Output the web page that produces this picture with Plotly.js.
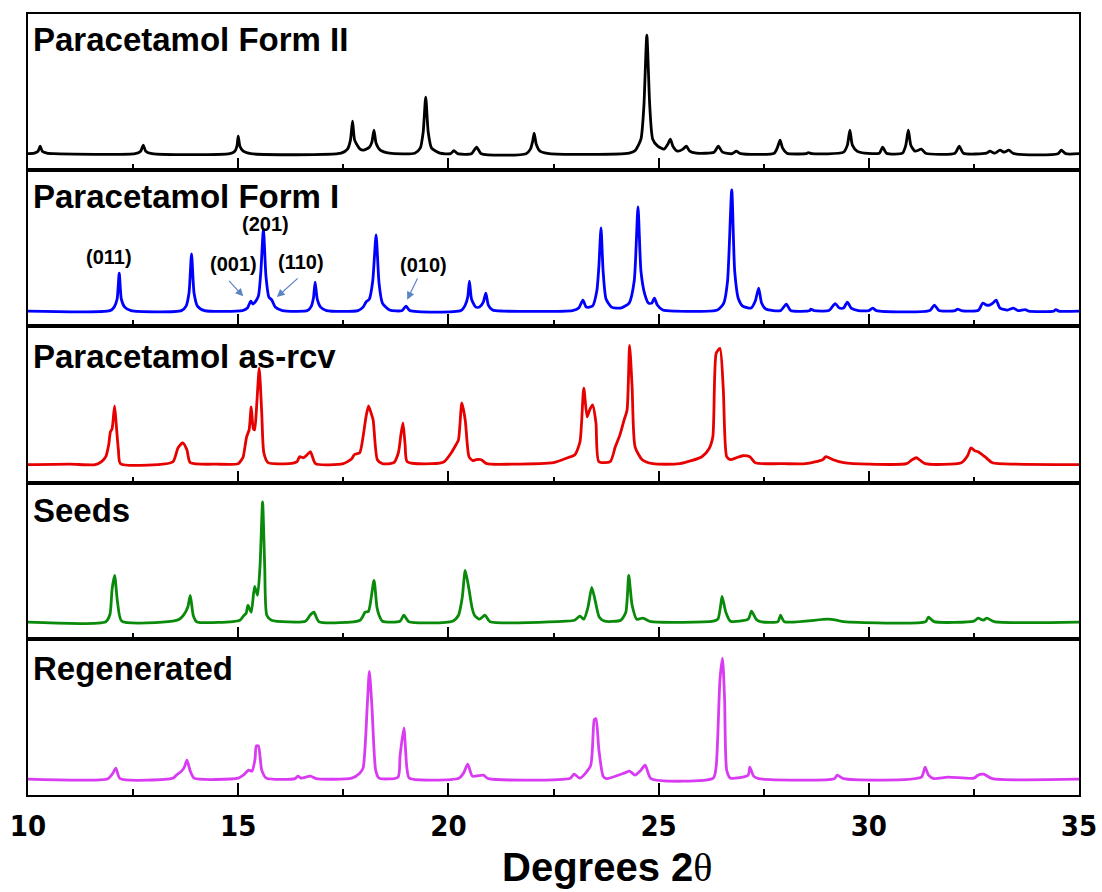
<!DOCTYPE html>
<html>
<head>
<meta charset="utf-8">
<script src="https://cdn.plot.ly/plotly-3.0.1.min.js"></script>
<style>html,body{margin:0;padding:0;background:#fff;}#chart{width:1102px;height:892px;}</style>
</head>
<body>
<div id="chart"></div>
<script>
// ---- Data (2-theta, intensity above baseline) ----
const panelNames = ["Paracetamol Form II", "Paracetamol Form I", "Paracetamol as-rcv", "Seeds", "Regenerated"];
const tickVals = [10, 15, 20, 25, 30, 35];
const tickText = ["10", "15", "20", "25", "30", "35"];

const formII = [[10.0,0.5],[10.15,1],[10.24,3],[10.29,8],[10.34,3],[10.45,1],[10.6,0.5],
[12.55,0.5],[12.68,3],[12.74,9],[12.80,3],[12.95,0.5],
[14.8,0.5],[14.92,3],[14.97,8],[15.0,18],[15.04,8],[15.12,3],[15.3,0.5],
[17.45,1],[17.6,5],[17.67,14],[17.72,33],[17.77,14],[17.9,5],[17.98,4],[18.12,7],[18.18,12],[18.23,24],[18.28,11],[18.38,4],[18.6,1],
[19.2,1],[19.33,6],[19.40,22],[19.46,57],[19.52,22],[19.6,6],[19.8,1],
[20.05,0.5],[20.13,3.5],[20.22,0.5],[20.55,0.5],[20.67,7],[20.78,0.5],
[21.85,0.5],[21.95,5],[22.00,12],[22.04,21],[22.09,10],[22.18,3],[22.4,0.5],
[24.3,1],[24.45,4],[24.58,15],[24.65,48],[24.72,119],[24.79,48],[24.86,15],[24.98,8],[25.13,5],[25.22,10],[25.28,15],[25.34,8],[25.45,3],[25.58,5],[25.66,8],[25.74,3],[25.9,1],
[26.32,2],[26.42,8],[26.52,2],[26.75,0.5],[26.85,3],[26.95,0.5],
[27.75,1],[27.83,7],[27.89,14],[27.95,6],[28.05,1],[28.5,0.5],[28.56,1.5],[28.65,0.5],
[29.4,2],[29.49,9],[29.55,24],[29.61,9],[29.72,3],[29.9,1],[30.25,1],[30.33,7],[30.42,1],
[30.8,1],[30.88,9],[30.94,24],[31.0,9],[31.1,3],[31.25,5],[31.35,1],
[32.05,1],[32.15,8],[32.25,1],[32.8,1],[32.88,3],[33.0,1],[33.12,4],[33.22,2],[33.33,4],[33.45,0.5],
[34.5,0.5],[34.58,4],[34.68,0.5],[35.0,0.5]];

const formI = [[10.0,0],[11.95,0.5],[12.05,4],[12.12,12],[12.17,38],[12.22,12],[12.3,4],[12.45,0.5],
[13.65,0.5],[13.76,5],[13.83,18],[13.89,57],[13.95,18],[14.03,5],[14.2,0.5],
[15.1,0.5],[15.22,3],[15.30,10],[15.35,7],[15.40,9],[15.48,15],[15.54,40],[15.60,82],[15.66,35],[15.73,14],[15.80,11],[15.88,4],[16.05,0.5],
[16.65,0.5],[16.74,5],[16.79,13],[16.83,29],[16.88,12],[16.96,4],[17.1,0.5],
[17.85,0.5],[17.97,4],[18.04,9],[18.12,12],[18.2,30],[18.28,76],[18.35,28],[18.43,8],[18.6,1],
[18.9,0.5],[18.99,5],[19.08,0.5],
[20.3,0.5],[20.4,6],[20.46,14],[20.50,30],[20.55,12],[20.65,4],[20.74,4],[20.83,9],[20.89,18],[20.95,6],[21.05,1],[21.3,0],
[22.95,0.5],[23.1,3],[23.2,11],[23.28,4],[23.43,5],[23.53,20],[23.58,45],[23.63,83],[23.68,40],[23.75,12],[23.88,4],
[24.1,3],[24.3,8],[24.42,30],[24.51,104],[24.58,40],[24.67,17],[24.76,8],[24.84,8],[24.9,13],[24.97,6],[25.1,1],[25.4,0],
[26.4,1],[26.55,8],[26.64,30],[26.74,121],[26.81,40],[26.9,12],[27.0,5],[27.2,3],[27.3,10],[27.38,23],[27.45,8],[27.55,2],
[27.9,0.5],[28.04,7],[28.14,0.5],[28.6,0.5],[28.62,2],[28.7,0.5],
[29.05,0.5],[29.2,7.5],[29.3,3],[29.4,3],[29.49,9],[29.58,3],[29.75,0.5],[30.0,0.5],[30.09,3],[30.18,0.5],
[31.45,0.5],[31.56,6],[31.67,0.5],[32.05,0.5],[32.11,2],[32.2,0.5],
[32.6,0.5],[32.71,8],[32.8,6],[32.87,6],[32.95,8],[33.03,11],[33.12,3],[33.3,1],[33.44,3],[33.55,0.5],[33.72,1.5],[33.8,0],
[34.4,0],[34.45,1.5],[34.52,0],[35.0,0]];

const asRcv = [[10.0,0],[11.0,0.5],[11.6,0],[11.75,3],[11.85,8],[11.92,20],[11.96,33],[12.0,36],[12.06,59],[12.1,40],[12.15,15],[12.2,1],
[13.2,0.5],[13.45,3],[13.57,17],[13.68,22],[13.78,15],[13.86,2],[14.5,0.5],
[15.0,1],[15.08,5],[15.12,8],[15.2,28],[15.26,35],[15.31,58],[15.36,36],[15.39,35],[15.44,60],[15.5,97],[15.56,52],[15.61,12],[15.71,2],
[16.2,1],[16.4,3],[16.46,8],[16.56,7],[16.64,10],[16.72,13],[16.84,1],
[17.5,1],[17.7,6],[17.76,10],[17.89,12],[17.97,28],[18.04,48],[18.10,59],[18.16,52],[18.21,45],[18.31,5],[18.43,1],
[18.7,2],[18.81,12],[18.87,30],[18.92,42],[18.97,20],[19.02,3],
[19.6,1],[19.9,3],[20.07,12],[20.18,20],[20.24,25],[20.32,62],[20.40,45],[20.49,8],[20.58,4],[20.66,5],[20.78,5],[20.91,1],
[21.5,0.5],[22.5,2],[22.84,7],[23.01,10],[23.13,23],[23.22,77],[23.30,48],[23.36,55],[23.43,60],[23.51,42],[23.58,3],
[23.85,3],[23.97,18],[24.08,30],[24.18,45],[24.25,55],[24.31,120],[24.37,78],[24.44,18],[24.61,5],[24.86,1],
[25.5,1],[26.03,8],[26.2,16],[26.29,28],[26.37,112],[26.46,117],[26.54,75],[26.62,8],[26.71,5],[26.85,7],[27.0,9],[27.17,8],[27.30,2],
[28.0,1],[28.5,1],[28.9,5],[28.98,8],[29.15,5],[29.4,2],[30.0,0.5],
[30.9,1],[31.03,5],[31.13,7],[31.34,1],
[32.2,2],[32.35,9],[32.43,17],[32.52,14],[32.6,13],[32.76,8],[32.94,2],[33.5,0.5],[35.0,0]];

const seeds = [[10.0,0],[11.85,0.5],[11.95,8],[12.0,33],[12.06,47],[12.13,20],[12.23,1],
[13.44,1],[13.6,3],[13.70,7],[13.80,15],[13.86,27],[13.93,7],[14.01,0.5],
[15.04,2],[15.14,7],[15.19,9],[15.23,17],[15.31,10],[15.39,36],[15.46,27],[15.52,57],[15.58,121],[15.63,57],[15.68,7],[15.79,2],
[16.6,1],[16.71,7],[16.80,10],[16.92,0.5],
[17.9,2],[18.02,10],[18.10,11],[18.23,42],[18.30,15],[18.35,7],[18.43,1],
[18.85,1],[18.94,7],[19.06,0.5],
[20.1,1],[20.24,7],[20.33,25],[20.40,52],[20.49,33],[20.56,15],[20.62,7],[20.74,3],[20.87,7],[20.99,0.5],
[22.8,1],[23.0,2],[23.13,6],[23.22,3],[23.32,15],[23.41,35],[23.49,22],[23.59,5],[23.72,1],
[24.1,2],[24.22,10],[24.29,47],[24.37,17],[24.48,3],[24.62,4],[24.69,3],[24.82,0.5],
[26.3,1],[26.41,3],[26.48,18],[26.51,26],[26.60,10],[26.71,1],
[27.13,3],[27.21,11],[27.32,3],[27.42,0.5],[27.84,0.5],[27.9,7],[27.99,0.5],
[29.02,3],[29.23,2],[29.4,0.5],[31.35,0.5],[31.42,5],[31.55,0.5],
[32.5,1],[32.60,4],[32.72,2],[32.81,4],[32.98,0.5],[35.0,0]];

const regenerated = [[10.0,0],[11.9,0.5],[12.02,6],[12.09,11],[12.19,0.5],
[13.45,1],[13.53,4],[13.65,8],[13.72,12],[13.78,19],[13.86,8],[13.95,1],
[15.0,1],[15.12,4],[15.25,9],[15.33,8],[15.40,20],[15.43,33],[15.48,33],[15.56,9],[15.67,1],
[16.35,0.5],[16.42,3],[16.5,1],[16.72,3],[16.85,0.5],
[17.7,1],[17.89,6],[17.97,11],[18.07,73],[18.12,107],[18.18,73],[18.27,9],[18.35,1],
[18.8,2],[18.85,23],[18.94,51],[19.01,12],[19.07,1],
[20.25,1],[20.36,6],[20.46,15],[20.57,3],[20.83,4],[20.95,0.5],
[22.9,1],[22.99,5],[23.13,1],[23.38,13],[23.47,59],[23.51,60],[23.58,29],[23.68,3],[23.76,0.5],
[24.18,6],[24.31,8],[24.44,4],[24.56,8],[24.68,14],[24.82,0.5],
[26.3,1],[26.37,13],[26.46,99],[26.52,120],[26.57,79],[26.62,9],[26.71,1],
[27.13,4],[27.17,12],[27.26,3],[27.38,0.5],
[29.18,0.5],[29.25,4],[29.40,0.5],
[31.25,2],[31.34,12],[31.42,4],[31.55,0.5],[31.88,2],
[32.5,1],[32.60,4],[32.73,5],[32.94,0.5],[35.0,0]];

const series = [formII, formI, asRcv, seeds, regenerated];
const colors = ["#000000", "#0000ff", "#e60000", "#0a8a0a", "#d93bf2"];

// ---- layout helpers ----
const yRanges = [[-16,140],[-15.3,140.7],[-18,139],[-16.7,140.3],[-15.7,139.3]];
const domains = [[0.8,1],[0.6,0.8],[0.4,0.6],[0.2,0.4],[0,0.2]];
const labelY = [0.835, 0.833, 0.807, 0.82, 0.81];

const traces = series.map((s, i) => ({
  x: s.map(p => p[0]),
  y: s.map(p => p[1]),
  type: 'scatter', mode: 'lines',
  line: {color: colors[i], width: 2.8, shape: 'spline', smoothing: 0.6},
  xaxis: 'x' + (i === 0 ? '' : i + 1),
  yaxis: 'y' + (i === 0 ? '' : i + 1),
  hoverinfo: 'skip', showlegend: false
}));

const layout = {
  width: 1102, height: 892,
  margin: {l: 28, r: 23, t: 14, b: 97},
  paper_bgcolor: '#ffffff', plot_bgcolor: '#ffffff',
  showlegend: false,
  font: {family: 'Liberation Sans, Arial, sans-serif', color: '#000'},
  annotations: []
};

for (let i = 0; i < 5; i++) {
  const sx = i === 0 ? '' : String(i + 1);
  layout['xaxis' + sx] = {
    range: [10, 35], anchor: 'y' + sx,
    showline: true, linewidth: 2, linecolor: '#000', mirror: true,
    ticks: 'inside', tickmode: 'array', tickvals: tickVals, ticktext: tickText,
    ticklen: 12, tickwidth: 2, tickcolor: '#000',
    minor: {dtick: 2.5, tick0: 10, ticks: 'inside', ticklen: 6, tickwidth: 2, tickcolor: '#000', showgrid: false},
    showgrid: false, zeroline: false,
    showticklabels: i === 4,
    tickfont: {family: 'Liberation Sans Narrow, DejaVu Sans Condensed, Liberation Sans, sans-serif', size: 29, color: '#000', weight: 'bold'},
    ticklabelstandoff: 4
  };
  layout['yaxis' + sx] = {
    domain: domains[i], range: yRanges[i], anchor: 'x' + sx,
    showline: true, linewidth: 2, linecolor: '#000', mirror: true,
    ticks: '', showticklabels: false, showgrid: false, zeroline: false
  };
  layout.annotations.push({
    text: panelNames[i], xref: 'paper', yref: 'y' + sx + ' domain',
    x: 0.003, y: labelY[i], xanchor: 'left', yanchor: 'middle', showarrow: false,
    font: {family: 'Liberation Sans, Arial, sans-serif', size: 33, color: '#000', weight: 'bold'}
  });
}

// axis title
layout.annotations.push({
  text: 'Degrees 2<span style="font-family:Liberation Serif;font-weight:normal">θ</span>', xref: 'paper', yref: 'paper', x: 0.551, y: -0.1242,
  xanchor: 'center', yanchor: 'bottom', showarrow: false,
  font: {family: 'Liberation Sans, Arial, sans-serif', size: 40, color: '#000', weight: 'bold'}
});

// Miller indices (Form I panel)
const millerText = ["(011)", "(201)", "(001)", "(110)", "(010)"];
const millerX = [11.93, 15.64, 14.89, 16.49, 19.40];
const millerY = [54, 87, 47, 49, 46];
millerText.forEach((t, k) => layout.annotations.push({
  text: t, xref: 'x2', yref: 'y2', x: millerX[k], y: millerY[k],
  xanchor: 'center', yanchor: 'middle', showarrow: false,
  font: {family: 'Liberation Sans, Arial, sans-serif', size: 20, color: '#000', weight: 'bold'}
}));

// arrows pointing to weak reflections
const arrowTipX = [15.12, 15.92, 19.02];
const arrowTipY = [14.7, 14, 11.4];
const arrowAx = [-15.6, 22.3, 11];
const arrowAy = [-17, -20, -22.6];
arrowTipX.forEach((x, k) => layout.annotations.push({
  text: '', xref: 'x2', yref: 'y2', x: x, y: arrowTipY[k],
  ax: arrowAx[k], ay: arrowAy[k], showarrow: true,
  arrowhead: 2, arrowsize: 1.3, arrowwidth: 1.2, arrowcolor: '#5b84c4', standoff: 0
}));

Plotly.newPlot('chart', traces, layout, {staticPlot: true, displayModeBar: false});
</script>
</body>
</html>
